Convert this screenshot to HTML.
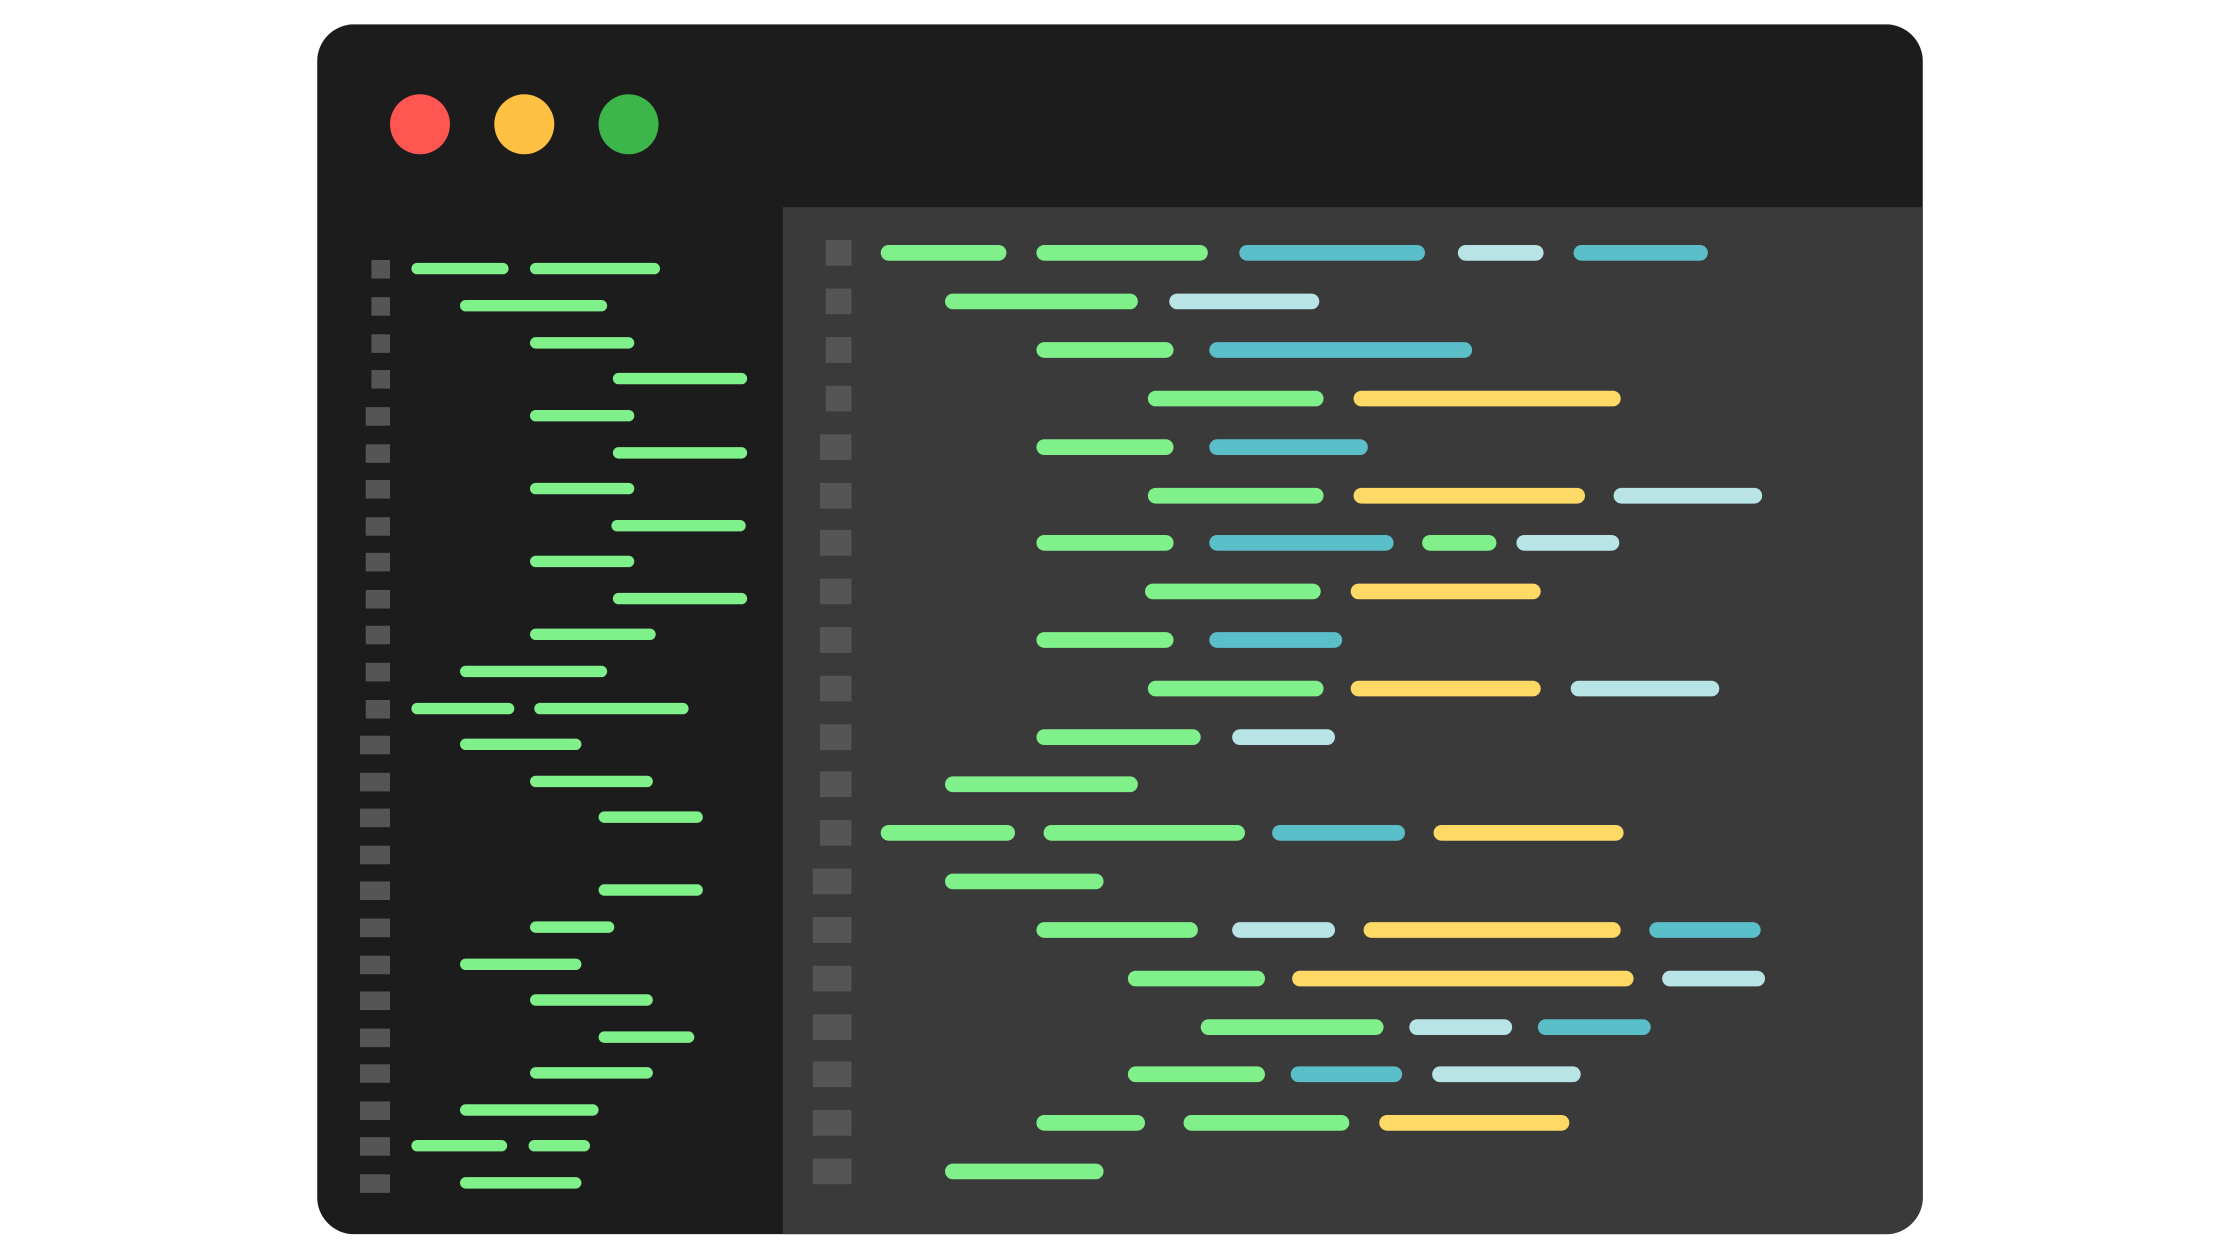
<!DOCTYPE html>
<html><head><meta charset="utf-8"><style>
html,body{margin:0;padding:0;background:#fff;width:2240px;height:1260px;overflow:hidden}
svg{display:block}
</style></head><body>
<svg width="2240" height="1260" viewBox="0 0 1568 882" xmlns="http://www.w3.org/2000/svg">
<defs><clipPath id="w"><rect x="222" y="17" width="1124" height="847" rx="26"/></clipPath></defs>
<g clip-path="url(#w)">
<rect x="222" y="17" width="1124" height="847" fill="#1c1c1c"/>
<rect x="548" y="145" width="798" height="719" fill="#3a3a3a"/>
</g>
<circle cx="294" cy="87" r="21" fill="#ff5652"/>
<circle cx="367" cy="87" r="21" fill="#ffc144"/>
<circle cx="440" cy="87" r="21" fill="#3cb54a"/>
<g fill="#555">
<rect x="260" y="182" width="13" height="13"/><rect x="260" y="208" width="13" height="13"/>
<rect x="260" y="234" width="13" height="13"/><rect x="260" y="259" width="13" height="13"/>
<rect x="256" y="285" width="17" height="13"/><rect x="256" y="311" width="17" height="13"/>
<rect x="256" y="336" width="17" height="13"/><rect x="256" y="362" width="17" height="13"/>
<rect x="256" y="387" width="17" height="13"/><rect x="256" y="413" width="17" height="13"/>
<rect x="256" y="438" width="17" height="13"/><rect x="256" y="464" width="17" height="13"/>
<rect x="256" y="490" width="17" height="13"/><rect x="252" y="515" width="21" height="13"/>
<rect x="252" y="541" width="21" height="13"/><rect x="252" y="566" width="21" height="13"/>
<rect x="252" y="592" width="21" height="13"/><rect x="252" y="617" width="21" height="13"/>
<rect x="252" y="643" width="21" height="13"/><rect x="252" y="669" width="21" height="13"/>
<rect x="252" y="694" width="21" height="13"/><rect x="252" y="720" width="21" height="13"/>
<rect x="252" y="745" width="21" height="13"/><rect x="252" y="771" width="21" height="13"/>
<rect x="252" y="796" width="21" height="13"/><rect x="252" y="822" width="21" height="13"/>
<rect x="578" y="168" width="18" height="18"/><rect x="578" y="202" width="18" height="18"/>
<rect x="578" y="236" width="18" height="18"/><rect x="578" y="270" width="18" height="18"/>
<rect x="574" y="304" width="22" height="18"/><rect x="574" y="338" width="22" height="18"/>
<rect x="574" y="371" width="22" height="18"/><rect x="574" y="405" width="22" height="18"/>
<rect x="574" y="439" width="22" height="18"/><rect x="574" y="473" width="22" height="18"/>
<rect x="574" y="507" width="22" height="18"/><rect x="574" y="540" width="22" height="18"/>
<rect x="574" y="574" width="22" height="18"/><rect x="569" y="608" width="27" height="18"/>
<rect x="569" y="642" width="27" height="18"/><rect x="569" y="676" width="27" height="18"/>
<rect x="569" y="710" width="27" height="18"/><rect x="569" y="743" width="27" height="18"/>
<rect x="569" y="777" width="27" height="18"/><rect x="569" y="811" width="27" height="18"/>
</g>
<g stroke="#80f08a" stroke-width="8" stroke-linecap="round">
<line x1="292" y1="188" x2="352" y2="188"/><line x1="375" y1="188" x2="458" y2="188"/>
<line x1="326" y1="214" x2="421" y2="214"/>
<line x1="375" y1="240" x2="440" y2="240"/>
<line x1="433" y1="265" x2="519" y2="265"/>
<line x1="375" y1="291" x2="440" y2="291"/>
<line x1="433" y1="317" x2="519" y2="317"/>
<line x1="375" y1="342" x2="440" y2="342"/>
<line x1="432" y1="368" x2="518" y2="368"/>
<line x1="375" y1="393" x2="440" y2="393"/>
<line x1="433" y1="419" x2="519" y2="419"/>
<line x1="375" y1="444" x2="455" y2="444"/>
<line x1="326" y1="470" x2="421" y2="470"/>
<line x1="292" y1="496" x2="356" y2="496"/><line x1="378" y1="496" x2="478" y2="496"/>
<line x1="326" y1="521" x2="403" y2="521"/>
<line x1="375" y1="547" x2="453" y2="547"/>
<line x1="423" y1="572" x2="488" y2="572"/>
<line x1="423" y1="623" x2="488" y2="623"/>
<line x1="375" y1="649" x2="426" y2="649"/>
<line x1="326" y1="675" x2="403" y2="675"/>
<line x1="375" y1="700" x2="453" y2="700"/>
<line x1="423" y1="726" x2="482" y2="726"/>
<line x1="375" y1="751" x2="453" y2="751"/>
<line x1="326" y1="777" x2="415" y2="777"/>
<line x1="292" y1="802" x2="351" y2="802"/><line x1="374" y1="802" x2="409" y2="802"/>
<line x1="326" y1="828" x2="403" y2="828"/>
</g>
<g stroke-width="11" stroke-linecap="round">
<g stroke="#80f08a">
<line x1="622" y1="177" x2="699" y2="177"/><line x1="731" y1="177" x2="840" y2="177"/>
<line x1="667" y1="211" x2="791" y2="211"/>
<line x1="731" y1="245" x2="816" y2="245"/>
<line x1="809" y1="279" x2="921" y2="279"/>
<line x1="731" y1="313" x2="816" y2="313"/>
<line x1="809" y1="347" x2="921" y2="347"/>
<line x1="731" y1="380" x2="816" y2="380"/><line x1="1001" y1="380" x2="1042" y2="380"/>
<line x1="807" y1="414" x2="919" y2="414"/>
<line x1="731" y1="448" x2="816" y2="448"/>
<line x1="809" y1="482" x2="921" y2="482"/>
<line x1="731" y1="516" x2="835" y2="516"/>
<line x1="667" y1="549" x2="791" y2="549"/>
<line x1="622" y1="583" x2="705" y2="583"/><line x1="736" y1="583" x2="866" y2="583"/>
<line x1="667" y1="617" x2="767" y2="617"/>
<line x1="731" y1="651" x2="833" y2="651"/>
<line x1="795" y1="685" x2="880" y2="685"/>
<line x1="846" y1="719" x2="963" y2="719"/>
<line x1="795" y1="752" x2="880" y2="752"/>
<line x1="731" y1="786" x2="796" y2="786"/><line x1="834" y1="786" x2="939" y2="786"/>
<line x1="667" y1="820" x2="767" y2="820"/>
</g>
<g stroke="#5bbfc9">
<line x1="873" y1="177" x2="992" y2="177"/><line x1="1107" y1="177" x2="1190" y2="177"/>
<line x1="852" y1="245" x2="1025" y2="245"/>
<line x1="852" y1="313" x2="952" y2="313"/>
<line x1="852" y1="380" x2="970" y2="380"/>
<line x1="852" y1="448" x2="934" y2="448"/>
<line x1="896" y1="583" x2="978" y2="583"/>
<line x1="1160" y1="651" x2="1227" y2="651"/>
<line x1="1082" y1="719" x2="1150" y2="719"/>
<line x1="909" y1="752" x2="976" y2="752"/>
</g>
<g stroke="#b8e4e6">
<line x1="1026" y1="177" x2="1075" y2="177"/>
<line x1="824" y1="211" x2="918" y2="211"/>
<line x1="1135" y1="347" x2="1228" y2="347"/>
<line x1="1067" y1="380" x2="1128" y2="380"/>
<line x1="1105" y1="482" x2="1198" y2="482"/>
<line x1="868" y1="516" x2="929" y2="516"/>
<line x1="868" y1="651" x2="929" y2="651"/>
<line x1="1169" y1="685" x2="1230" y2="685"/>
<line x1="992" y1="719" x2="1053" y2="719"/>
<line x1="1008" y1="752" x2="1101" y2="752"/>
</g>
<g stroke="#ffd966">
<line x1="953" y1="279" x2="1129" y2="279"/>
<line x1="953" y1="347" x2="1104" y2="347"/>
<line x1="951" y1="414" x2="1073" y2="414"/>
<line x1="951" y1="482" x2="1073" y2="482"/>
<line x1="1009" y1="583" x2="1131" y2="583"/>
<line x1="960" y1="651" x2="1129" y2="651"/>
<line x1="910" y1="685" x2="1138" y2="685"/>
<line x1="971" y1="786" x2="1093" y2="786"/>
</g>
</g>
</svg>
</body></html>
